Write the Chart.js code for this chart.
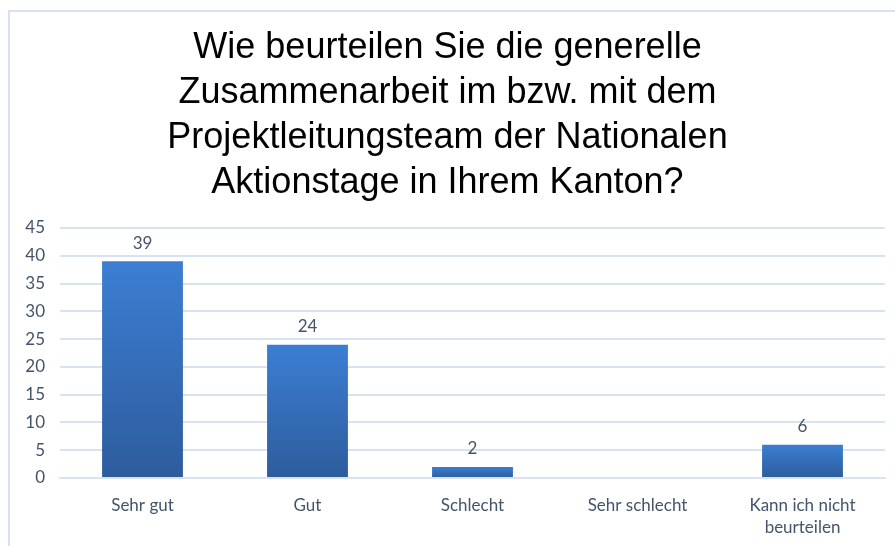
<!DOCTYPE html>
<html>
<head>
<meta charset="utf-8">
<script src="https://cdn.jsdelivr.net/npm/chart.js@4.4.0/dist/chart.umd.min.js"></script>
<style>
  html, body { margin: 0; padding: 0; background: #fff; }
  #wrap { position: relative; width: 895px; height: 546px; overflow: hidden; }
  #frame { position: absolute; left: 8px; top: 10px; width: 900px; height: 560px;
           border: 2px solid #d6e2f3; box-sizing: border-box; }
  #myChart { position: absolute; left: 0; top: 0; }
</style>
</head>
<body>
<div id="wrap">
  <div id="frame"></div>
  <canvas id="myChart" width="895" height="546"></canvas>
</div>
<script>
// chart data
const titleLines = [
    'Wie beurteilen Sie die generelle',
    'Zusammenarbeit im bzw. mit dem',
    'Projektleitungsteam der Nationalen',
    'Aktionstage in Ihrem Kanton?'
];
const categories = ['Sehr gut', 'Gut', 'Schlecht', 'Sehr schlecht', ['Kann ich nicht', 'beurteilen']];
const answers = [39, 24, 2, 0, 6];
const yMax = 45;
const yStep = 5;

const textColor = '#44546a';
const gridColor = '#d9e2f1';
const labelFont = "Lato, 'Noto Sans', sans-serif";

// value labels above the bars (no datalabels plugin here)
const valueLabels = {
    id: 'valueLabels',
    afterDatasetsDraw(chart) {
        const ctx = chart.ctx;
        const meta = chart.getDatasetMeta(0);
        ctx.save();
        ctx.font = '17px ' + labelFont;
        ctx.fillStyle = textColor;
        ctx.textAlign = 'center';
        ctx.textBaseline = 'middle';
        meta.data.forEach(function(bar, i) {
            if (!answers[i]) return; // nothing shown for 0
            ctx.fillText(String(answers[i]), bar.x, bar.y - 18);
        });
        ctx.restore();
    }
};

function barFill(context) {
    const chart = context.chart;
    if (!chart.chartArea) return '#3a78c9';
    const y = chart.scales.y;
    const top = y.getPixelForValue(context.raw);
    const bottom = y.getPixelForValue(0);
    if (bottom - top < 1) return '#3a78c9';
    const g = chart.ctx.createLinearGradient(0, top, 0, bottom);
    g.addColorStop(0, '#3c7ed3');
    g.addColorStop(1, '#2d5c9c');
    return g;
}

const ctx = document.getElementById('myChart').getContext('2d');
const myChart = new Chart(ctx, {
    type: 'bar',
    data: {
        labels: categories,
        datasets: [{
            data: answers,
            backgroundColor: barFill,
            borderWidth: 0,
            categoryPercentage: 1,
            barPercentage: 0.49
        }]
    },
    options: {
        responsive: false,
        animation: false,
        layout: { padding: { left: 10, right: 10, top: 0, bottom: 8 } },
        plugins: {
            legend: { display: false },
            tooltip: { enabled: false },
            title: {
                display: true,
                text: titleLines,
                color: '#000',
                font: { family: "'Liberation Sans', Arial, sans-serif", size: 36, weight: 'normal', lineHeight: 1.25 },
                padding: { top: 26, bottom: 22 }
            }
        },
        scales: {
            x: {
                grid: { display: false, drawTicks: false },
                border: { display: true, color: gridColor, width: 2 },
                ticks: { color: textColor, font: { family: labelFont, size: 17, lineHeight: 1.3 }, padding: 16, maxRotation: 0 },
                afterFit: function(scale) { scale.height = 60; }
            },
            y: {
                min: 0,
                max: yMax,
                grid: { color: gridColor, lineWidth: 2, drawTicks: false },
                border: { display: false },
                ticks: { stepSize: yStep, color: textColor, font: { family: labelFont, size: 17 }, padding: 15 },
                afterFit: function(scale) { scale.width = 50; }
            }
        }
    },
    plugins: [valueLabels]
});
</script>
</body>
</html>
